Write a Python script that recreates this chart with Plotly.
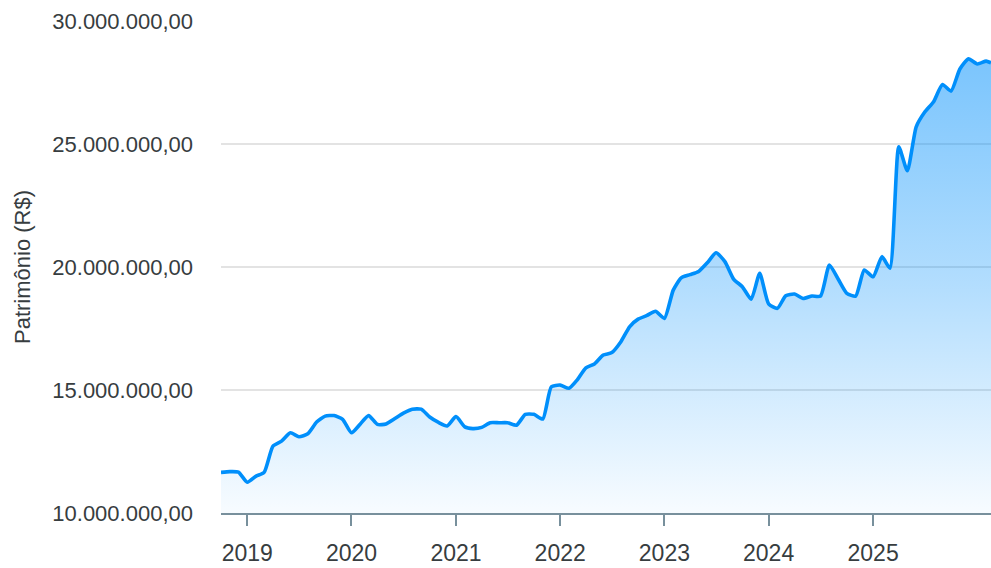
import pandas as pd
import plotly.graph_objects as go

# Monthly dates (Oct 2018 .. Feb 2026) plus a final partial-month point
months = list(pd.date_range("2018-10-01", "2026-02-01", freq="MS").strftime("%Y-%m-%d"))
dates = months + ["2026-02-18"]

patrimonio = [
    11.65e6, 11.68e6, 11.66e6, 11.25e6, 11.50e6, 11.65e6, 12.72e6, 12.92e6, 13.26e6, 13.10e6,
    13.22e6, 13.70e6, 13.94e6, 13.96e6, 13.81e6, 13.26e6, 13.62e6, 13.96e6, 13.60e6, 13.62e6,
    13.84e6, 14.06e6, 14.22e6, 14.22e6, 13.90e6, 13.68e6, 13.54e6, 13.92e6, 13.50e6, 13.43e6,
    13.48e6, 13.67e6, 13.67e6, 13.67e6, 13.57e6, 14.01e6, 14.01e6, 13.82e6, 15.13e6, 15.20e6,
    15.07e6, 15.40e6, 15.90e6, 16.06e6, 16.42e6, 16.52e6, 16.95e6, 17.57e6, 17.88e6, 18.03e6,
    18.20e6, 17.91e6, 19.06e6, 19.56e6, 19.69e6, 19.82e6, 20.18e6, 20.58e6, 20.22e6, 19.50e6,
    19.20e6, 18.69e6, 19.74e6, 18.50e6, 18.32e6, 18.83e6, 18.90e6, 18.72e6, 18.82e6, 18.82e6,
    20.08e6, 19.50e6, 18.93e6, 18.82e6, 19.88e6, 19.60e6, 20.42e6, 19.95e6, 24.89e6, 23.91e6,
    25.70e6, 26.30e6, 26.72e6, 27.42e6, 27.15e6, 28.05e6, 28.46e6, 28.25e6, 28.37e6, 28.30e6,
]

y_tick_vals = [10e6, 15e6, 20e6, 25e6, 30e6]
y_tick_text = ["10.000.000,00", "15.000.000,00", "20.000.000,00", "25.000.000,00", "30.000.000,00"]
x_tick_vals = ["2019-01-01", "2020-01-01", "2021-01-01", "2022-01-01", "2023-01-01", "2024-01-01", "2025-01-01"]
x_tick_text = ["2019", "2020", "2021", "2022", "2023", "2024", "2025"]

LINE = "#008FFB"
TEXT = "#373d3f"
FONT = "Liberation Sans, Arial, sans-serif"

fig = go.Figure()
fig.add_trace(go.Scatter(
    x=dates, y=patrimonio, mode="lines",
    line=dict(color=LINE, width=3.6, shape="spline", smoothing=0.55),
    fill="tozeroy",
    fillgradient=dict(
        type="vertical",
        start=10e6, stop=max(patrimonio),
        colorscale=[[0, "rgba(0,143,251,0.03)"], [0.5, "rgba(0,143,251,0.3)"], [1, "rgba(0,143,251,0.52)"]],
    ),
    hoverinfo="skip", showlegend=False,
))

fig.update_layout(
    width=991, height=568,
    margin=dict(l=221, r=0, t=21, b=55),
    paper_bgcolor="white", plot_bgcolor="white",
    font=dict(family=FONT, color=TEXT),
    hovermode=False,
)
fig.update_xaxes(
    type="date", range=["2018-10-01", dates[-1]],
    tickvals=x_tick_vals, ticktext=x_tick_text,
    ticks="outside", ticklen=11, tickcolor="#78909c", tickwidth=1.5,
    showline=True, linecolor="#78909c", linewidth=1.5,
    showgrid=False, zeroline=False,
    tickfont=dict(size=23, color=TEXT, family=FONT),
    ticklabelstandoff=8,
)
fig.update_yaxes(
    range=[10e6, 30e6],
    tickvals=y_tick_vals, ticktext=y_tick_text,
    showgrid=True, gridcolor="#e3e3e3", gridwidth=1.5,
    zeroline=False, showline=False, ticks="",
    tickfont=dict(size=22, color=TEXT, family=FONT),
    ticklabelstandoff=27,
    title=dict(text="Patrimônio (R$)", font=dict(size=22, color=TEXT, family=FONT), standoff=15),
)

fig.write_html(
    "out.html",
    config={"displayModeBar": False},
    post_script="document.body.style.margin='0';document.documentElement.style.overflow='hidden';",
)
